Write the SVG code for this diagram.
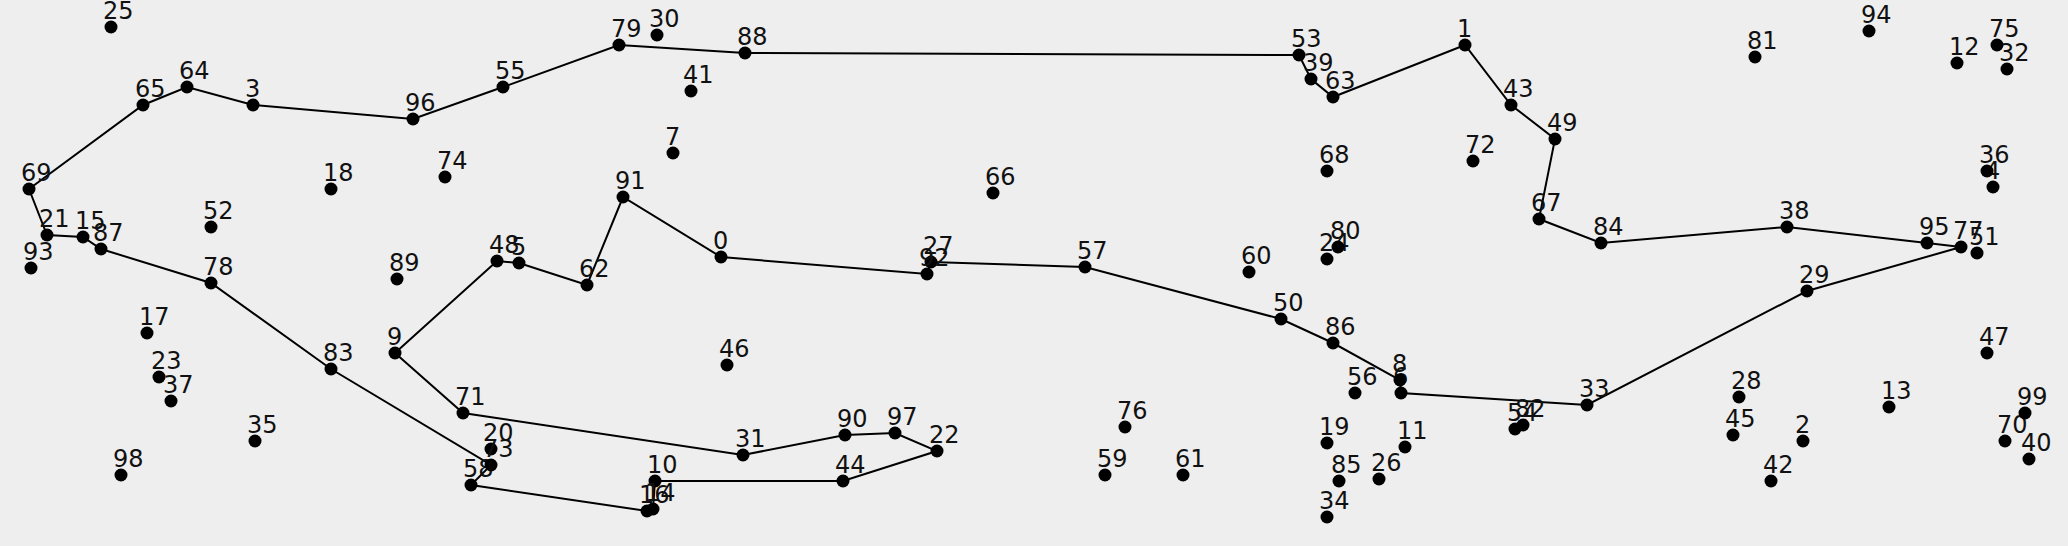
<svg xmlns="http://www.w3.org/2000/svg" width="2068" height="546" viewBox="0 0 2068 546">
<style>
.bg{fill:#eeeeee}
.e{stroke:#000;stroke-width:2;fill:none}
circle{fill:#000}
text{font-family:"DejaVu Sans",sans-serif;font-size:24px;fill:#111}
</style>
<rect class="bg" x="0" y="0" width="2068" height="546"/>
<g id="connectors">
<polyline class="e" points="29,189 143,105 187,87 253,105 413,119 503,87 619,45 745,53 1299,55 1311,79 1333,97 1465,45 1511,105 1555,139 1539,219 1601,243 1787,227 1927,243 1961,247 1807,291 1587,405 1401,393 1400,380 1333,343 1281,319 1085,267 931,262 927,274 721,257 623,197 587,285 519,263 497,261 395,353 463,413 743,455 845,435 895,433 937,451 843,481 655,481 653,509 647,511 471,485 491,465 331,369 211,283 101,249 83,237 47,235 29,189"/>
</g>
<g id="n0"><circle cx="721" cy="257" r="6.5"/><text x="713" y="249">0</text></g>
<g id="n1"><circle cx="1465" cy="45" r="6.5"/><text x="1457" y="37">1</text></g>
<g id="n2"><circle cx="1803" cy="441" r="6.5"/><text x="1795" y="433">2</text></g>
<g id="n3"><circle cx="253" cy="105" r="6.5"/><text x="245" y="97">3</text></g>
<g id="n4"><circle cx="1993" cy="187" r="6.5"/><text x="1985" y="179">4</text></g>
<g id="n5"><circle cx="519" cy="263" r="6.5"/><text x="511" y="255">5</text></g>
<g id="n6"><circle cx="1401" cy="393" r="6.5"/><text x="1393" y="385">6</text></g>
<g id="n7"><circle cx="673" cy="153" r="6.5"/><text x="665" y="145">7</text></g>
<g id="n8"><circle cx="1400" cy="380" r="6.5"/><text x="1392" y="372">8</text></g>
<g id="n9"><circle cx="395" cy="353" r="6.5"/><text x="387" y="345">9</text></g>
<g id="n10"><circle cx="655" cy="481" r="6.5"/><text x="647" y="473">10</text></g>
<g id="n11"><circle cx="1405" cy="447" r="6.5"/><text x="1397" y="439">11</text></g>
<g id="n12"><circle cx="1957" cy="63" r="6.5"/><text x="1949" y="55">12</text></g>
<g id="n13"><circle cx="1889" cy="407" r="6.5"/><text x="1881" y="399">13</text></g>
<g id="n14"><circle cx="653" cy="509" r="6.5"/><text x="645" y="501">14</text></g>
<g id="n15"><circle cx="83" cy="237" r="6.5"/><text x="75" y="229">15</text></g>
<g id="n16"><circle cx="647" cy="511" r="6.5"/><text x="639" y="503">16</text></g>
<g id="n17"><circle cx="147" cy="333" r="6.5"/><text x="139" y="325">17</text></g>
<g id="n18"><circle cx="331" cy="189" r="6.5"/><text x="323" y="181">18</text></g>
<g id="n19"><circle cx="1327" cy="443" r="6.5"/><text x="1319" y="435">19</text></g>
<g id="n20"><circle cx="491" cy="449" r="6.5"/><text x="483" y="441">20</text></g>
<g id="n21"><circle cx="47" cy="235" r="6.5"/><text x="39" y="227">21</text></g>
<g id="n22"><circle cx="937" cy="451" r="6.5"/><text x="929" y="443">22</text></g>
<g id="n23"><circle cx="159" cy="377" r="6.5"/><text x="151" y="369">23</text></g>
<g id="n24"><circle cx="1327" cy="259" r="6.5"/><text x="1319" y="251">24</text></g>
<g id="n25"><circle cx="111" cy="27" r="6.5"/><text x="103" y="19">25</text></g>
<g id="n26"><circle cx="1379" cy="479" r="6.5"/><text x="1371" y="471">26</text></g>
<g id="n27"><circle cx="931" cy="262" r="6.5"/><text x="923" y="254">27</text></g>
<g id="n28"><circle cx="1739" cy="397" r="6.5"/><text x="1731" y="389">28</text></g>
<g id="n29"><circle cx="1807" cy="291" r="6.5"/><text x="1799" y="283">29</text></g>
<g id="n30"><circle cx="657" cy="35" r="6.5"/><text x="649" y="27">30</text></g>
<g id="n31"><circle cx="743" cy="455" r="6.5"/><text x="735" y="447">31</text></g>
<g id="n32"><circle cx="2007" cy="69" r="6.5"/><text x="1999" y="61">32</text></g>
<g id="n33"><circle cx="1587" cy="405" r="6.5"/><text x="1579" y="397">33</text></g>
<g id="n34"><circle cx="1327" cy="517" r="6.5"/><text x="1319" y="509">34</text></g>
<g id="n35"><circle cx="255" cy="441" r="6.5"/><text x="247" y="433">35</text></g>
<g id="n36"><circle cx="1987" cy="171" r="6.5"/><text x="1979" y="163">36</text></g>
<g id="n37"><circle cx="171" cy="401" r="6.5"/><text x="163" y="393">37</text></g>
<g id="n38"><circle cx="1787" cy="227" r="6.5"/><text x="1779" y="219">38</text></g>
<g id="n39"><circle cx="1311" cy="79" r="6.5"/><text x="1303" y="71">39</text></g>
<g id="n40"><circle cx="2029" cy="459" r="6.5"/><text x="2021" y="451">40</text></g>
<g id="n41"><circle cx="691" cy="91" r="6.5"/><text x="683" y="83">41</text></g>
<g id="n42"><circle cx="1771" cy="481" r="6.5"/><text x="1763" y="473">42</text></g>
<g id="n43"><circle cx="1511" cy="105" r="6.5"/><text x="1503" y="97">43</text></g>
<g id="n44"><circle cx="843" cy="481" r="6.5"/><text x="835" y="473">44</text></g>
<g id="n45"><circle cx="1733" cy="435" r="6.5"/><text x="1725" y="427">45</text></g>
<g id="n46"><circle cx="727" cy="365" r="6.5"/><text x="719" y="357">46</text></g>
<g id="n47"><circle cx="1987" cy="353" r="6.5"/><text x="1979" y="345">47</text></g>
<g id="n48"><circle cx="497" cy="261" r="6.5"/><text x="489" y="253">48</text></g>
<g id="n49"><circle cx="1555" cy="139" r="6.5"/><text x="1547" y="131">49</text></g>
<g id="n50"><circle cx="1281" cy="319" r="6.5"/><text x="1273" y="311">50</text></g>
<g id="n51"><circle cx="1977" cy="253" r="6.5"/><text x="1969" y="245">51</text></g>
<g id="n52"><circle cx="211" cy="227" r="6.5"/><text x="203" y="219">52</text></g>
<g id="n53"><circle cx="1299" cy="55" r="6.5"/><text x="1291" y="47">53</text></g>
<g id="n54"><circle cx="1515" cy="429" r="6.5"/><text x="1507" y="421">54</text></g>
<g id="n55"><circle cx="503" cy="87" r="6.5"/><text x="495" y="79">55</text></g>
<g id="n56"><circle cx="1355" cy="393" r="6.5"/><text x="1347" y="385">56</text></g>
<g id="n57"><circle cx="1085" cy="267" r="6.5"/><text x="1077" y="259">57</text></g>
<g id="n58"><circle cx="471" cy="485" r="6.5"/><text x="463" y="477">58</text></g>
<g id="n59"><circle cx="1105" cy="475" r="6.5"/><text x="1097" y="467">59</text></g>
<g id="n60"><circle cx="1249" cy="272" r="6.5"/><text x="1241" y="264">60</text></g>
<g id="n61"><circle cx="1183" cy="475" r="6.5"/><text x="1175" y="467">61</text></g>
<g id="n62"><circle cx="587" cy="285" r="6.5"/><text x="579" y="277">62</text></g>
<g id="n63"><circle cx="1333" cy="97" r="6.5"/><text x="1325" y="89">63</text></g>
<g id="n64"><circle cx="187" cy="87" r="6.5"/><text x="179" y="79">64</text></g>
<g id="n65"><circle cx="143" cy="105" r="6.5"/><text x="135" y="97">65</text></g>
<g id="n66"><circle cx="993" cy="193" r="6.5"/><text x="985" y="185">66</text></g>
<g id="n67"><circle cx="1539" cy="219" r="6.5"/><text x="1531" y="211">67</text></g>
<g id="n68"><circle cx="1327" cy="171" r="6.5"/><text x="1319" y="163">68</text></g>
<g id="n69"><circle cx="29" cy="189" r="6.5"/><text x="21" y="181">69</text></g>
<g id="n70"><circle cx="2005" cy="441" r="6.5"/><text x="1997" y="433">70</text></g>
<g id="n71"><circle cx="463" cy="413" r="6.5"/><text x="455" y="405">71</text></g>
<g id="n72"><circle cx="1473" cy="161" r="6.5"/><text x="1465" y="153">72</text></g>
<g id="n73"><circle cx="491" cy="465" r="6.5"/><text x="483" y="457">73</text></g>
<g id="n74"><circle cx="445" cy="177" r="6.5"/><text x="437" y="169">74</text></g>
<g id="n75"><circle cx="1997" cy="45" r="6.5"/><text x="1989" y="37">75</text></g>
<g id="n76"><circle cx="1125" cy="427" r="6.5"/><text x="1117" y="419">76</text></g>
<g id="n77"><circle cx="1961" cy="247" r="6.5"/><text x="1953" y="239">77</text></g>
<g id="n78"><circle cx="211" cy="283" r="6.5"/><text x="203" y="275">78</text></g>
<g id="n79"><circle cx="619" cy="45" r="6.5"/><text x="611" y="37">79</text></g>
<g id="n80"><circle cx="1338" cy="247" r="6.5"/><text x="1330" y="239">80</text></g>
<g id="n81"><circle cx="1755" cy="57" r="6.5"/><text x="1747" y="49">81</text></g>
<g id="n82"><circle cx="1523" cy="425" r="6.5"/><text x="1515" y="417">82</text></g>
<g id="n83"><circle cx="331" cy="369" r="6.5"/><text x="323" y="361">83</text></g>
<g id="n84"><circle cx="1601" cy="243" r="6.5"/><text x="1593" y="235">84</text></g>
<g id="n85"><circle cx="1339" cy="481" r="6.5"/><text x="1331" y="473">85</text></g>
<g id="n86"><circle cx="1333" cy="343" r="6.5"/><text x="1325" y="335">86</text></g>
<g id="n87"><circle cx="101" cy="249" r="6.5"/><text x="93" y="241">87</text></g>
<g id="n88"><circle cx="745" cy="53" r="6.5"/><text x="737" y="45">88</text></g>
<g id="n89"><circle cx="397" cy="279" r="6.5"/><text x="389" y="271">89</text></g>
<g id="n90"><circle cx="845" cy="435" r="6.5"/><text x="837" y="427">90</text></g>
<g id="n91"><circle cx="623" cy="197" r="6.5"/><text x="615" y="189">91</text></g>
<g id="n92"><circle cx="927" cy="274" r="6.5"/><text x="919" y="266">92</text></g>
<g id="n93"><circle cx="31" cy="268" r="6.5"/><text x="23" y="260">93</text></g>
<g id="n94"><circle cx="1869" cy="31" r="6.5"/><text x="1861" y="23">94</text></g>
<g id="n95"><circle cx="1927" cy="243" r="6.5"/><text x="1919" y="235">95</text></g>
<g id="n96"><circle cx="413" cy="119" r="6.5"/><text x="405" y="111">96</text></g>
<g id="n97"><circle cx="895" cy="433" r="6.5"/><text x="887" y="425">97</text></g>
<g id="n98"><circle cx="121" cy="475" r="6.5"/><text x="113" y="467">98</text></g>
<g id="n99"><circle cx="2025" cy="413" r="6.5"/><text x="2017" y="405">99</text></g>
</svg>
